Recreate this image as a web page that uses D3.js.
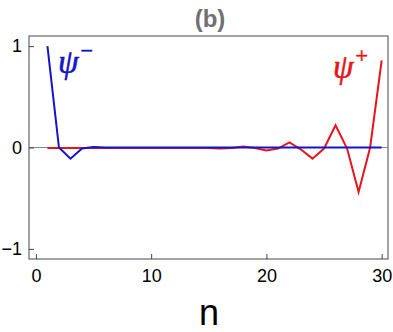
<!DOCTYPE html>
<meta charset="utf-8">
<style>
  body { margin: 0; background: #fff; }
  text { font-family: "Liberation Sans", Arial, sans-serif; }
</style>
<div id="chart"></div>
<script src="https://cdn.jsdelivr.net/npm/d3@7"></script>
<script>
// site index
var sites = d3.range(1, 31);
// psi minus (blue), localized at left edge
var psiMinus = [1, 0, -0.11, -0.01, 0.006, 0, 0, 0, 0, 0,
                0, 0, 0, 0, 0, 0, 0, 0, 0, 0,
                0, 0, 0, 0, 0, 0, 0, 0, 0, 0];
// psi plus (red), localized at right edge
var psiPlus = [-0.006, -0.006, -0.006, -0.006, -0.006, -0.006, -0.006, -0.006, -0.006, -0.006,
               -0.006, -0.006, -0.006, -0.004, -0.006, -0.01, -0.004, 0.01, -0.006, -0.03,
               -0.01, 0.05, -0.02, -0.11, -0.01, 0.22, -0.01, -0.44, 0, 0.86];
var xTicks = [0, 10, 20, 30];
var yTicks = [-1, 0, 1];

var W = 393, H = 332;
var frame = {left: 29, right: 388, top: 36, bottom: 259};

var svg = d3.select("#chart").append("svg")
  .attr("width", W).attr("height", H);

var x = d3.scaleLinear().domain([-0.6, 30.55]).range([frame.left, frame.right]);
var y = d3.scaleLinear().domain([-1.1, 1.1]).range([frame.bottom, frame.top]);

// zero axis line
svg.append("line")
  .attr("x1", frame.left).attr("x2", frame.right)
  .attr("y1", y(0)).attr("y2", y(0))
  .attr("stroke", "#888").attr("stroke-width", 1);

// frame
svg.append("rect")
  .attr("x", frame.left).attr("y", frame.top)
  .attr("width", frame.right - frame.left)
  .attr("height", frame.bottom - frame.top)
  .attr("fill", "none").attr("stroke", "#666").attr("stroke-width", 1.2);

// axes (ticks inside)
var xAxis = svg.append("g")
  .attr("transform", "translate(0," + frame.bottom + ")")
  .call(d3.axisBottom(x).tickValues(xTicks).tickSizeInner(-5).tickSizeOuter(0).tickPadding(10));
var yAxis = svg.append("g")
  .attr("transform", "translate(" + frame.left + ",0)")
  .call(d3.axisLeft(y).tickValues(yTicks).tickSizeInner(-5).tickSizeOuter(0).tickPadding(7)
    .tickFormat(function(d) { return d < 0 ? "\u2212" + Math.abs(d) : d; }));

[xAxis, yAxis].forEach(function(a) {
  a.select(".domain").remove();
  a.selectAll(".tick line").attr("stroke", "#444");
  a.selectAll(".tick text").attr("fill", "#000")
    .style("font-size", "18px")
    .style("font-family", "'Liberation Sans', Arial, sans-serif");
});

// lines
var line = d3.line()
  .x(function(d) { return x(d[0]); })
  .y(function(d) { return y(d[1]); });

svg.append("path")
  .datum(sites.map(function(n, i) { return [n, psiPlus[i]]; }))
  .attr("d", line).attr("fill", "none")
  .attr("stroke", "#e8141c").attr("stroke-width", 2);

svg.append("path")
  .datum(sites.map(function(n, i) { return [n, psiMinus[i]]; }))
  .attr("d", line).attr("fill", "none")
  .attr("stroke", "#1414c8").attr("stroke-width", 2);

// title
svg.append("text")
  .attr("x", 210).attr("y", 27)
  .attr("text-anchor", "middle")
  .attr("fill", "#707070")
  .style("font-size", "24px").style("font-weight", "bold")
  .text("(b)");

// x label
svg.append("text")
  .attr("x", 209).attr("y", 325)
  .attr("text-anchor", "middle")
  .attr("fill", "#000")
  .style("font-size", "36px")
  .text("n");

// psi labels
var lm = svg.append("text")
  .attr("x", 58).attr("y", 73)
  .attr("fill", "#1414c8")
  .style("font-family", "'Liberation Serif', 'Times New Roman', serif")
  .style("font-style", "italic")
  .style("font-size", "33px")
  .style("stroke", "#1414c8").style("stroke-width", 0.6);
lm.append("tspan").text("\u03c8");
lm.append("tspan").attr("dy", -15).attr("dx", 2).style("font-size", "22px").style("font-style", "normal").text("\u2212");

var lp = svg.append("text")
  .attr("x", 333).attr("y", 78)
  .attr("fill", "#e8141c")
  .style("font-family", "'Liberation Serif', 'Times New Roman', serif")
  .style("font-style", "italic")
  .style("font-size", "33px")
  .style("stroke", "#e8141c").style("stroke-width", 0.6);
lp.append("tspan").text("\u03c8");
lp.append("tspan").attr("dy", -15).attr("dx", 2).style("font-size", "22px").style("font-style", "normal").text("+");
</script>
